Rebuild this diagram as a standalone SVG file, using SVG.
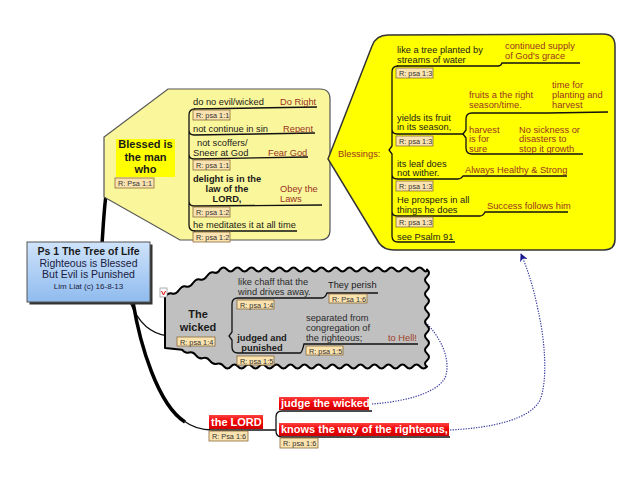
<svg xmlns="http://www.w3.org/2000/svg" width="640" height="482" viewBox="0 0 640 482">
<style>
text{font-family:"Liberation Sans",Arial,sans-serif;font-size:9.3px;fill:#1a1a1a}
.r{fill:#993322}
.b{font-weight:bold}
.m{text-anchor:middle}
.tg rect{fill:#fbe3b0;stroke:#8b6b3b;stroke-width:0.8}
.tg text{font-size:7.3px;fill:#333}
.ln{fill:none;stroke:#111;stroke-width:1.3}
.br{fill:none;stroke:#111;stroke-width:1.3}
.dot{fill:none;stroke:#3a3aa0;stroke-width:1.2;stroke-dasharray:1.3 1.3}
.wt{fill:#fff;font-weight:bold;font-size:11px}
.red{fill:url(#rg)}
</style>
<defs>
<linearGradient id="bg" x1="0" y1="0" x2="0" y2="1"><stop offset="0" stop-color="#cfe3fb"/><stop offset="1" stop-color="#8fbbee"/></linearGradient>
<linearGradient id="rg" x1="0" y1="0" x2="0" y2="1"><stop offset="0" stop-color="#ff4040"/><stop offset="0.5" stop-color="#f00000"/><stop offset="1" stop-color="#d00000"/></linearGradient>
<marker id="ah" viewBox="0 0 10 10" refX="9" refY="5" markerWidth="8" markerHeight="8" markerUnits="userSpaceOnUse" orient="auto"><path d="M0,0 L10,5 L0,10 L3,5 Z" fill="#1a1a90"/></marker>
</defs>

<g id="connectors">
<path d="M102,244 C104,215 105,192 108,185" fill="none" stroke="#000" stroke-width="3.5"/>
<path d="M108,186 Q111,178 118,178 L189,178" class="ln" stroke-width="2"/>
<path d="M130,302 C138,322 150,334 168,336 L229,336" class="ln" stroke-width="2"/>
<path d="M133,302 C140,345 158,405 185,422" fill="none" stroke="#000" stroke-width="3.5"/>
<path d="M184,421 Q196,430 212,430 L276,430" class="ln" stroke-width="2"/>
<path d="M330,160 L338,157" class="ln" stroke-width="1"/>
<path class="dot" d="M297,229 Q318,229 316,222 Q314,213 308,207" marker-end="url(#ah)"/>
<path class="dot" d="M372,404 C400,402 435,395 445,378 C452,360 440,335 423,320 C405,305 388,296 372,292" marker-end="url(#ah)"/>
<path class="dot" d="M450,430 C490,428 530,420 540,400 C548,380 545,340 538,310 C533,285 527,268 521,254" marker-end="url(#ah)"/>
</g>

<g id="blessed">
<path d="M168,89 L320,89 Q330,89 330,99 L330,230 Q330,240 320,240 L180,240 L104,197 L104,137 Z" fill="#faf69c" stroke="#555" stroke-width="1.2"/>
<rect x="116" y="139" width="59" height="38" fill="#ffff00"/>
<text class="b m" x="145.5" y="148" style="font-size:11px">Blessed is</text>
<text class="b m" x="145.5" y="161" style="font-size:11px">the man</text>
<text class="b m" x="145.5" y="173" style="font-size:11px">who</text>
<g class="tg"><rect x="115" y="178" width="39" height="10"/><text x="118" y="186">R: Psa 1:1</text></g>
<path class="br" d="M195,109 Q189,109 189,115 L189,225 Q189,231 195,231 M189,130 Q189,135 194,135 M189,154 Q189,159 194,159 M189,201 Q189,206 194,206"/>
<path class="ln" d="M194,109 L317,107 M194,135 L315,133 M194,159 L308,157 M194,206 L322,205 M194,231 L297,231"/>
<text x="193" y="105">do no evil/wicked</text>
<text class="r" x="280" y="105">Do Right</text>
<text x="193" y="132">not continue in sin</text>
<text class="r" x="283" y="132">Repent</text>
<text x="197" y="146">not scoffers/</text>
<text x="193" y="156">Sneer at God</text>
<text class="r" x="268" y="156">Fear God</text>
<text class="b m" x="227" y="182">delight is in the</text>
<text class="b m" x="227" y="192">law of the</text>
<text class="b m" x="227" y="202">LORD,</text>
<text class="r" x="280" y="192">Obey the</text>
<text class="r" x="280" y="202">Laws</text>
<text x="193" y="228">he meditates it at all time</text>
<g class="tg"><rect x="193" y="110" width="37" height="10"/><text x="196" y="118">R: psa 1:1</text></g>
<g class="tg"><rect x="193" y="160" width="37" height="10"/><text x="196" y="168">R: psa 1:1</text></g>
<g class="tg"><rect x="193" y="207" width="37" height="10"/><text x="196" y="215">R: psa 1:2</text></g>
<g class="tg"><rect x="193" y="232" width="37" height="10"/><text x="196" y="240">R: psa 1:2</text></g>
</g>

<g id="blessings">
<path d="M328,159 L372,46 Q376,35 388,35 L603,34 Q615,34 615,46 L615,239 Q615,250 604,250 L394,250 Q384,250 379,243 Z" fill="#ffff00" stroke="#333" stroke-width="1.5"/>
<text class="r" x="338" y="157">Blessings:</text>
<path class="br" d="M398,66 Q392,66 392,72 L392,146 L389,150 L392,154 L392,236 Q392,242 398,242 M392,129 Q392,134 397,134 M392,174 Q392,179 397,179 M392,211 Q392,216 397,216"/>
<path class="ln" d="M397,66 L498,66 Q501,66 502,63 L580,63 M397,134 L463,134 M397,179 L458,179 Q461,179 463,176 L567,176 M397,216 L480,216 Q483,216 485,212 L568,212 M398,242 L455,242"/>
<path class="br" d="M472,113 Q466,113 466,119 L466,130 L463,134 L466,138 L466,148 Q466,154 472,154"/>
<path class="ln" d="M472,113 L548,113 L608,112 M472,154 L583,154"/>
<text x="397" y="53">like a tree planted by</text>
<text x="397" y="63">streams of water</text>
<text class="r" x="505" y="49">continued supply</text>
<text class="r" x="505" y="59">of God's grace</text>
<text x="397" y="121">yields its fruit</text>
<text x="397" y="130">in its season,</text>
<text class="r" x="469" y="98">fruits a the right</text>
<text class="r" x="469" y="108">season/time.</text>
<text class="r" x="552" y="88">time for</text>
<text class="r" x="552" y="98">planting and</text>
<text class="r" x="552" y="108">harvest</text>
<text class="r" x="469" y="133">harvest</text>
<text class="r" x="469" y="142">is for</text>
<text class="r" x="469" y="152">sure</text>
<text class="r" x="519" y="133">No sickness or</text>
<text class="r" x="519" y="142">disasters to</text>
<text class="r" x="519" y="152">stop it growth</text>
<text x="397" y="167">its leaf does</text>
<text x="397" y="176">not wither.</text>
<text class="r" x="465" y="173">Always Healthy &amp; Strong</text>
<text x="397" y="203">He prospers in all</text>
<text x="397" y="213">things he does</text>
<text class="r" x="487" y="209">Success follows him</text>
<text x="397" y="240">see Psalm 91</text>
<g class="tg"><rect x="396" y="68" width="37" height="10"/><text x="399" y="76">R: psa 1:3</text></g>
<g class="tg"><rect x="396" y="136" width="37" height="10"/><text x="399" y="144">R: psa 1:3</text></g>
<g class="tg"><rect x="396" y="181" width="37" height="10"/><text x="399" y="189">R: psa 1:3</text></g>
<g class="tg"><rect x="396" y="217" width="37" height="10"/><text x="399" y="225">R: psa 1:3</text></g>
</g>

<g id="wicked">
<path d="M165,297 q3.5,-5 7,-3.5 t7,-3.5 t7,-3.5 t7,-3.5 t7,-3.5 t7,-3.5 t7,-3.5 t6,-3 q3.5,-4 7,0 t7,0 t7,0 t7,0 t7,0 t7,0 t7,0 t7,0 t7,0 t7,0 t7,0 t7,0 t7,0 t7,0 t7,0 t7,0 t7,0 t7,0 t7,0 t7,0 t7,0 t7,0 t7,0 t7,0 t7,0 t7,0 t7,0 t7,0 t7,0 t4,0 q4,3.5 0,7 t0,7 t0,7 t0,7 t0,7 t0,7 t0,7 t0,7 t0,7 t0,7 t0,7 t0,7 t0,7 t0,6 q-3.5,4 -7,0 t-7,0 t-7,0 t-7,0 t-7,0 t-7,0 t-7,0 t-7,0 t-7,0 t-7,0 t-7,0 t-7,0 t-7,0 t-7,0 t-7,0 t-7,0 t-7,0 t-7,0 t-7,0 t-7,0 t-7,0 t-7,0 t-7,0 t-7,0 t-7,0 t-7,0 t-7,0 t-7,0 t-7,0 q-3,-4 -7,-2.8 t-7,-2.8 t-7,-2.8 t-7,-2.8 t-7,-2.8 t-7,-2.8 L165,348 Z" fill="#c0c0c0" stroke="#000" stroke-width="2" stroke-linejoin="round"/>
<rect x="160" y="288" width="7" height="9" fill="#fff" stroke="#999" stroke-width="0.8"/>
<path d="M161.5,291 L163.5,295 L165.5,291" fill="none" stroke="#d00" stroke-width="1"/>
<text class="b m" x="198" y="318" style="font-size:11px">The</text>
<text class="b m" x="198" y="331" style="font-size:11px">wicked</text>
<g class="tg"><rect x="177" y="337" width="38" height="9"/><text x="180" y="344.5">R: psa 1:4</text></g>
<path class="br" d="M238,298 Q232,298 232,304 L232,332 L229,336 L232,340 L232,347 Q232,353 238,353"/>
<path class="ln" d="M238,298 L322,298 Q325,298 327,293 L378,293 M238,353 L300,353 Q302,353 304,344 L418,344"/>
<text x="238" y="285" style="fill:#2a2a2a">like chaff that the</text>
<text x="238" y="295" style="fill:#2a2a2a">wind drives away.</text>
<text x="328" y="288">They perish</text>
<g class="tg"><rect x="237" y="300" width="37" height="9"/><text x="240" y="307.5">R: psa 1:4</text></g>
<g class="tg"><rect x="329" y="294" width="38" height="9"/><text x="332" y="301.5">R: Psa 1:6</text></g>
<text class="b m" x="262" y="341">judged and</text>
<text class="b m" x="262" y="351">punished</text>
<text x="306" y="321" style="fill:#2a2a2a">separated from</text>
<text x="306" y="331" style="fill:#2a2a2a">congregation of</text>
<text x="306" y="341" style="fill:#2a2a2a">the righteous;</text>
<text x="388" y="341" style="fill:#a0402a">to Hell!</text>
<g class="tg"><rect x="237" y="356" width="37" height="9"/><text x="240" y="363.5">R: psa 1:5</text></g>
<g class="tg"><rect x="306" y="346" width="37" height="9"/><text x="309" y="353.5">R: psa 1:5</text></g>
</g>

<g id="lord">
<rect class="red" x="209" y="415" width="54" height="14"/>
<text class="wt" x="211" y="426">the LORD</text>
<g class="tg"><rect x="209" y="431" width="39" height="10"/><text x="212" y="439">R: Psa 1:6</text></g>
<path class="br" d="M282,411 Q276,411 276,417 L276,431 Q276,437 282,437"/>
<path class="ln" d="M282,411 L372,411 M282,437 L450,437"/>
<rect class="red" x="279" y="397" width="90" height="13"/>
<text class="wt" x="281" y="407">judge the wicked</text>
<rect class="red" x="279" y="423" width="170" height="13"/>
<text class="wt" x="281" y="433">knows the way of the righteous,</text>
<g class="tg"><rect x="280" y="438" width="38" height="10"/><text x="283" y="446">R: psa 1:6</text></g>
</g>

<g id="central">
<rect x="29.5" y="244.5" width="123" height="60" fill="#333"/>
<rect x="27" y="242" width="123" height="60" fill="url(#bg)" stroke="#555" stroke-width="1"/>
<text class="b m" x="88.5" y="255" style="font-size:10.5px">Ps 1 The Tree of Life</text>
<text class="m" x="88.5" y="267" style="font-size:10.5px;fill:#1a2040">Righteous is Blessed</text>
<text class="m" x="88.5" y="278" style="font-size:10.5px;fill:#1a2040">But Evil is Punished</text>
<text class="m" x="88.5" y="289" style="font-size:8px;fill:#1a2040">Lim Liat (c) 16-8-13</text>
</g>
</svg>
